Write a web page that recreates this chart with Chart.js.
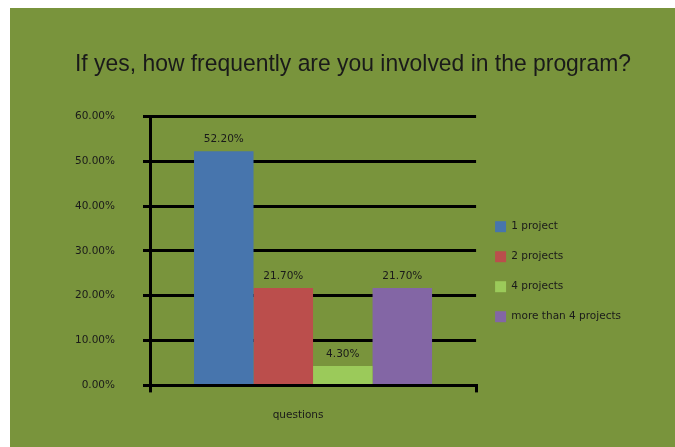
<!DOCTYPE html>
<html>
  <head>
    <title>Program involvement</title>
    <style>
      body {
        margin: 0;
        background: #ffffff;
      }
      #panel {
        position: absolute;
        left: 10px;
        top: 8px;
        width: 665px;
        height: 439px;
        background: #79943c;
      }
    </style>
    <script src="https://cdn.jsdelivr.net/npm/chart.js"></script>
  </head>
  <body>
    <div id="panel">
      <canvas id="chart" width="665" height="439"></canvas>
    </div>

    <script>
      const categories = ["questions"];
      const seriesNames = ["1 project", "2 projects", "4 projects", "more than 4 projects"];
      const seriesValues = [52.2, 21.7, 4.3, 21.7];
      const seriesColors = ["#4775ad", "#bb4e4c", "#9bca5a", "#8366a5"];

      const smallFont = { family: "DejaVu Sans", size: 10.5 };
      const ink = "#1a1a1a";

      // percentage label on top of each bar
      const barLabels = {
        id: "barLabels",
        afterDatasetsDraw(chart) {
          const ctx = chart.ctx;
          ctx.save();
          ctx.font = "10.5px 'DejaVu Sans'";
          ctx.fillStyle = ink;
          ctx.textAlign = "center";
          ctx.textBaseline = "bottom";
          chart.data.datasets.forEach((ds, i) => {
            const meta = chart.getDatasetMeta(i);
            meta.data.forEach((bar, j) => {
              ctx.fillText(ds.data[j].toFixed(2) + "%", bar.x, bar.y - 7);
            });
          });
          ctx.restore();
        },
      };

      new Chart(document.getElementById("chart"), {
        type: "bar",
        data: {
          labels: categories,
          datasets: seriesNames.map((name, i) => ({
            label: name,
            data: [seriesValues[i]],
            backgroundColor: seriesColors[i],
            barPercentage: 1,
            categoryPercentage: 0.73,
          })),
        },
        options: {
          responsive: false,
          animation: false,
          layout: { padding: { left: 65, right: 44, top: 0, bottom: 8 } },
          plugins: {
            title: {
              display: true,
              text: "If yes, how frequently are you involved in the program?",
              color: ink,
              font: { family: "Liberation Sans", size: 24.5, weight: "normal" },
              padding: { top: 42, bottom: 37 },
            },
            legend: {
              position: "right",
              maxWidth: 220,
              // blank title only pushes the items down a little
              title: { display: true, text: " ", font: { size: 12 }, padding: { top: 82, bottom: 0 } },
              labels: {
                boxWidth: 11,
                boxHeight: 11,
                padding: 19,
                color: ink,
                font: smallFont,
              },
            },
            tooltip: { enabled: false },
          },
          scales: {
            x: {
              grid: {
                drawOnChartArea: false,
                drawTicks: true,
                tickLength: 7,
                tickColor: "#000",
                lineWidth: 3,
              },
              border: { color: "#000", width: 3 },
              ticks: { color: ink, font: smallFont, padding: 17, labelOffset: -15 },
            },
            y: {
              min: 0,
              max: 60,
              afterFit: (scale) => {
                scale.width = 75;
              },
              ticks: {
                stepSize: 10,
                color: ink,
                font: smallFont,
                padding: 28,
                callback: (v) => v.toFixed(2) + "%",
              },
              grid: {
                color: "#000",
                lineWidth: 3,
                tickLength: 7,
                tickColor: "#000",
              },
              border: { color: "#000", width: 3 },
            },
          },
        },
        plugins: [barLabels],
      });
    </script>
  </body>
</html>
